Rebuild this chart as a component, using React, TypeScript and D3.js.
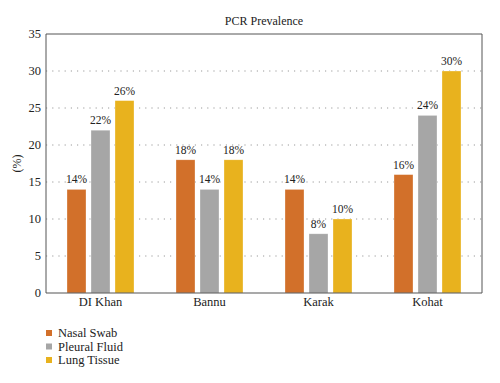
import React from "react";
import * as d3 from "d3";

const categories = ["DI Khan", "Bannu", "Karak", "Kohat"];
const seriesNames = ["Nasal Swab", "Pleural Fluid", "Lung Tissue"];
const nasalSwab = [14, 18, 14, 16];
const pleuralFluid = [22, 14, 8, 24];
const lungTissue = [26, 18, 10, 30];
const yTicks = [0, 5, 10, 15, 20, 25, 30, 35];
const colors = ["#D2702A", "#A6A6A6", "#E8B21E"];

const W = 500, H = 383;
const left = 46, right = 482, top = 34, bottom = 293;
const font = "Liberation Serif, Times New Roman, DejaVu Serif, serif";

export default function App() {
  const series = [nasalSwab, pleuralFluid, lungTissue];
  const x0 = d3.scaleBand<string>().domain(categories).range([left, right]).padding(0);
  const x1 = d3.scaleBand<string>().domain(seriesNames).range([-33.5, 33.5]).paddingInner(5 / 24).paddingOuter(0);
  const y = d3.scaleLinear().domain([0, 35]).range([bottom, top]);

  return (
    <svg width={W} height={H} style={{ position: "absolute", left: 0, top: 0, background: "#fff", fontFamily: font }}>
      <text x={(left + right) / 2} y={25} textAnchor="middle" fontSize={12} fill="#222">PCR Prevalence</text>
      {yTicks.filter(t => t > 0 && t < 35).map(t => (
        <line key={"g" + t} x1={left} x2={right} y1={y(t)} y2={y(t)} stroke="#9a9a9a" strokeWidth={1} strokeDasharray="1.2,5" />
      ))}
      {yTicks.map(t => (
        <text key={"t" + t} x={left - 5} y={y(t)} dy="0.35em" textAnchor="end" fontSize={12.5} fill="#222">{t}</text>
      ))}
      <text transform={`translate(${21},${(top + bottom) / 2}) rotate(-90)`} textAnchor="middle" fontSize={12} fill="#222">(%)</text>
      {categories.map((c, ci) => {
        const cx = (x0(c) as number) + x0.bandwidth() / 2;
        return (
          <g key={c}>
            {seriesNames.map((s, si) => {
              const v = series[si][ci];
              const bx = cx + (x1(s) as number);
              return (
                <g key={s}>
                  <rect x={bx} y={y(v)} width={x1.bandwidth()} height={bottom - y(v)} fill={colors[si]} stroke="#ffffff" strokeOpacity={0.5} strokeWidth={0.6} />
                  <text x={bx + x1.bandwidth() / 2} y={y(v) - 6} textAnchor="middle" fontSize={11.5} fill="#222">{v}%</text>
                </g>
              );
            })}
            <text x={cx} y={306} textAnchor="middle" fontSize={12.5} fill="#222">{c}</text>
          </g>
        );
      })}
      <path d={`M${left},${bottom}V${top}H${right}V${bottom}`} fill="none" stroke="#555" strokeWidth={1} />
      <line x1={left} x2={right} y1={bottom} y2={bottom} stroke="#555" strokeWidth={1.2} />
      {seriesNames.map((s, i) => (
        <g key={s}>
          <rect x={46} y={330 + i * 13.5} width={6} height={6} fill={colors[i]} />
          <text x={58} y={333 + i * 13.5} dy="0.35em" fontSize={12.5} fill="#222">{s}</text>
        </g>
      ))}
    </svg>
  );
}
